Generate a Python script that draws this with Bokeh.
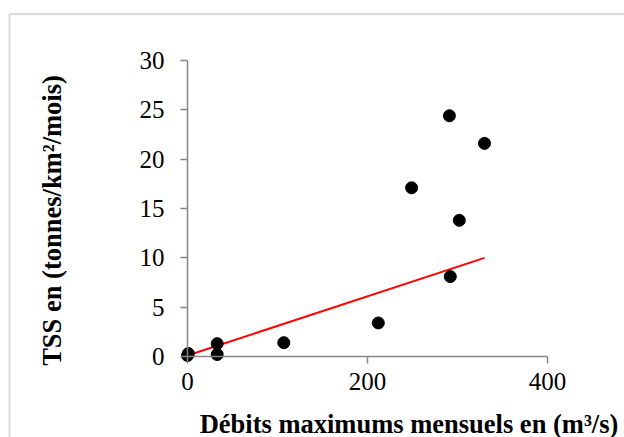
import math

from bokeh.embed import file_html
from bokeh.models import BoxAnnotation, ColumnDataSource, FixedTicker, Label, Range1d
from bokeh.plotting import figure
from bokeh.resources import INLINE

# Monthly maximum discharge (m3/s) and suspended sediment yield (t/km2/month)
debit = [0, 1, 33, 33, 107, 212, 249, 291, 292, 302, 330]
tss = [0.1, 0.3, 1.3, 0.2, 1.4, 3.4, 17.1, 24.4, 8.1, 13.8, 21.6]

# Linear trend line end points
trend_x = [0, 330]
trend_y = [0.1, 10.0]

x_ticks = [0, 200, 400]
y_ticks = [0, 5, 10, 15, 20, 25, 30]

x_label = "Débits maximums mensuels en (m³/s)"
y_label = "TSS en (tonnes/km²/mois)"

SERIF = "Liberation Serif"
GREY = "#868686"

W, H = 624, 437
# pixel placement of the axes box: x 0..400 -> 187..547, y 0..30 -> 356..60
X0_PX, X1_PX, Y0_PX, Y1_PX = 187, 547, 356, 60
sx = (X1_PX - X0_PX) / (x_ticks[-1] - x_ticks[0])
sy = (Y0_PX - Y1_PX) / (y_ticks[-1] - y_ticks[0])

# the frame fills the whole canvas; axes are pinned at the origin
p = figure(
    width=W,
    height=H,
    x_range=Range1d(-X0_PX / sx, x_ticks[-1] + (W - X1_PX) / sx),
    y_range=Range1d(-(H - Y0_PX) / sy, y_ticks[-1] + Y1_PX / sy),
    output_backend="svg",
    toolbar_location=None,
    min_border=0,
)
p.background_fill_color = "white"
p.border_fill_color = "white"
p.outline_line_color = None
p.grid.visible = False

for ax, ticks in ((p.xaxis[0], x_ticks), (p.yaxis[0], y_ticks)):
    ax.fixed_location = 0
    ax.bounds = (ticks[0], ticks[-1])
    ax.ticker = FixedTicker(ticks=ticks)
    ax.axis_line_color = GREY
    ax.axis_line_width = 1.5
    ax.major_tick_line_color = GREY
    ax.major_tick_line_width = 1.5
    ax.major_tick_in = 0
    ax.major_tick_out = 7
    ax.minor_tick_line_color = None
    ax.major_label_text_font = SERIF
    ax.major_label_text_font_size = "25px"
    ax.major_label_text_color = "black"

p.xaxis[0].major_label_standoff = 9
p.yaxis[0].major_label_standoff = 16

src = ColumnDataSource(dict(x=debit, y=tss))
p.line(trend_x, trend_y, line_color="#ff0000", line_width=2)
p.scatter("x", "y", source=src, size=12, fill_color="black", line_color="black")

# axis titles
p.add_layout(Label(
    x=408.5, y=423, x_units="canvas", y_units="canvas", text=x_label,
    text_font=SERIF, text_font_size="26.5px", text_font_style="bold",
    text_align="center", text_baseline="middle", text_color="black",
))
p.add_layout(Label(
    x=51, y=220, x_units="canvas", y_units="canvas", text=y_label, angle=math.pi / 2,
    text_font=SERIF, text_font_size="26.5px", text_font_style="bold",
    text_align="center", text_baseline="middle", text_color="black",
))

# chart area border
p.add_layout(BoxAnnotation(
    left=9, right=W + 20, top=13.5, bottom=H + 20,
    left_units="canvas", right_units="canvas", top_units="canvas", bottom_units="canvas",
    fill_alpha=0, line_color="#888888", line_width=2,
))

open("out.html", "w").write(file_html(p, INLINE))
